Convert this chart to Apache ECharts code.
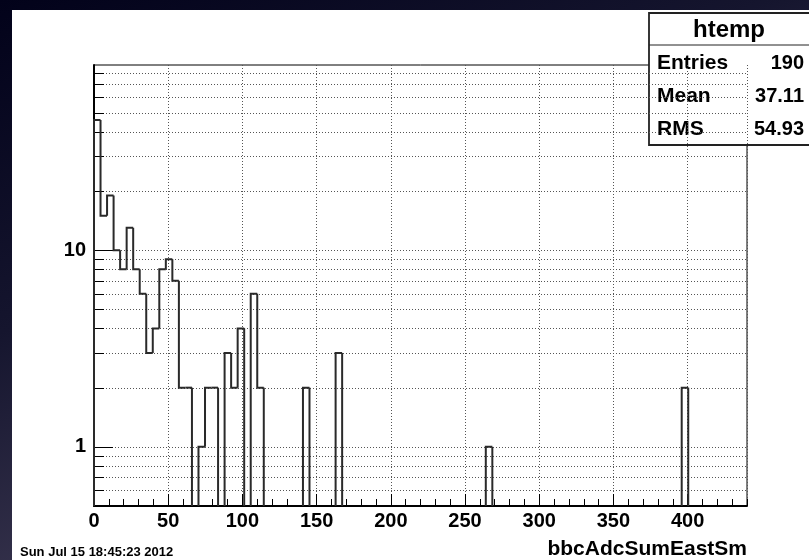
<!DOCTYPE html>
<html>
<head>
<meta charset="utf-8">
<script src="https://cdn.jsdelivr.net/npm/echarts@6/dist/echarts.min.js"></script>
<style>
html,body{margin:0;padding:0;background:#05051a;}
#c{width:809px;height:560px;}
</style>
</head>
<body>
<div id="c"></div>
<script>
// ---- data ----
const BIN_WIDTH = 4.4;          // x units per bin (100 bins over 0..440)
const counts = [
  46,15,19,10, 8,13, 8, 6, 3, 4,
   8, 9, 7, 2, 2, 0, 1, 2, 2, 0,
   3, 2, 4, 0, 6, 2, 0, 0, 0, 0,
   0, 0, 2, 0, 0, 0, 0, 3, 0, 0,
   0, 0, 0, 0, 0, 0, 0, 0, 0, 0,
   0, 0, 0, 0, 0, 0, 0, 0, 0, 0,
   1, 0, 0, 0, 0, 0, 0, 0, 0, 0,
   0, 0, 0, 0, 0, 0, 0, 0, 0, 0,
   0, 0, 0, 0, 0, 0, 0, 0, 0, 0,
   2, 0, 0, 0, 0, 0, 0, 0, 0, 0
];
const yGridValues = [0.6,0.7,0.8,0.9,1,2,3,4,5,6,7,8,9,10,20,30,40,50,60,70,80];
const yMajorValues = [1,10];
const statsTitle = 'htemp';
const statsNames = ['Entries','Mean','RMS'];
const statsValues = ['190','37.11','54.93'];
const xTitle = 'bbcAdcSumEastSm';
const dateText = 'Sun Jul 15 18:45:23 2012';
const X_MIN = 0, X_MAX = 440, Y_MIN = 0.5, Y_MAX = 87.6;

const FONT = "'Liberation Sans', Arial, Helvetica, sans-serif";

const histData = counts.map((c, i) => [i, c, i > 0 ? counts[i - 1] : 0]);
const gridData = yGridValues.map(v => [0, v]);

function renderHist(params, api) {
  const i = api.value(0), v = api.value(1), prev = api.value(2);
  const cs = params.coordSys;
  const bottom = cs.y + cs.height;
  const x0 = api.coord([i * BIN_WIDTH, 1])[0];
  const x1 = api.coord([(i + 1) * BIN_WIDTH, 1])[0];
  const yOf = c => c > 0 ? api.coord([0, c])[1] : bottom;
  const yv = yOf(v), yp = yOf(prev);
  if (v === 0 && prev === 0) return null;
  const pts = [[x0, yp], [x0, yv]];
  if (v > 0) pts.push([x1, yv]);
  return {
    type: 'polyline',
    shape: { points: pts },
    style: { stroke: '#2a2a2a', lineWidth: 2, fill: null, lineJoin: 'miter' }
  };
}

function renderYGrid(params, api) {
  const v = api.value(1);
  const cs = params.coordSys;
  const y = Math.round(api.coord([0, v])[1]) + 0.5;
  const major = yMajorValues.indexOf(v) >= 0;
  return {
    type: 'group',
    children: [
      { type: 'line', shape: { x1: cs.x, y1: y, x2: cs.x + cs.width, y2: y },
        style: { stroke: '#555', lineWidth: 1, lineDash: [1, 2] } },
      { type: 'line', shape: { x1: cs.x, y1: y, x2: cs.x + (major ? 19 : 10), y2: y },
        style: { stroke: '#000', lineWidth: 1 } }
    ]
  };
}

const chart = echarts.init(document.getElementById('c'), null, { renderer: 'canvas' });

const statsChildren = [
  { type: 'rect', shape: { x: 649, y: 13, width: 170, height: 132 },
    style: { fill: '#fff', stroke: '#222', lineWidth: 1.8 } },
  { type: 'line', shape: { x1: 649, y1: 45, x2: 809, y2: 45 },
    style: { stroke: '#222', lineWidth: 1 } },
  { type: 'text', x: 729, y: 30,
    style: { text: statsTitle, fill: '#000', font: 'bold 24px ' + FONT, textAlign: 'center', textVerticalAlign: 'middle' } }
];
statsNames.forEach((n, k) => {
  const yy = 63 + k * 33;
  statsChildren.push({ type: 'text', x: 657, y: yy,
    style: { text: n, fill: '#000', font: 'bold 21px ' + FONT, textAlign: 'left', textVerticalAlign: 'middle' } });
  statsChildren.push({ type: 'text', x: 804, y: yy,
    style: { text: statsValues[k], fill: '#000', font: 'bold 20px ' + FONT, textAlign: 'right', textVerticalAlign: 'middle' } });
});

const option = {
  animation: false,
  backgroundColor: {
    type: 'linear', x: 0, y: 0, x2: 0.3, y2: 1,
    colorStops: [
      { offset: 0, color: '#02021a' },
      { offset: 0.5, color: '#15152e' },
      { offset: 1, color: '#3d3953' }
    ]
  },
  title: {
    text: dateText, left: 20, top: 546, padding: 0,
    textStyle: { fontSize: 13, fontWeight: 'bold', color: '#000', fontFamily: FONT }
  },
  graphic: [
    { type: 'rect', z: -100, shape: { x: 12, y: 10, width: 800, height: 552 }, style: { fill: '#fff' } },
    { type: 'group', z: 100, children: statsChildren }
  ],
  grid: {
    left: 94, top: 65, right: 62, bottom: 52,
    show: true, borderColor: '#000', borderWidth: 1, backgroundColor: 'transparent'
  },
  xAxis: [
    {
      type: 'value', min: X_MIN, max: X_MAX, interval: 50, position: 'bottom',
      name: xTitle, nameLocation: 'end', nameGap: 0,
      nameTextStyle: { fontSize: 21, fontWeight: 'bold', color: '#000', fontFamily: FONT,
        align: 'right', verticalAlign: 'top', padding: [33, 0, 0, 0] },
      axisLine: { show: true, lineStyle: { color: '#000', width: 2 } },
      axisTick: { show: true, inside: true, length: 12, lineStyle: { color: '#000', width: 1 } },
      axisLabel: { show: true, margin: 5, fontSize: 20, fontWeight: 'bold', color: '#000', fontFamily: FONT,
        showMaxLabel: false },
      splitLine: { show: true, lineStyle: { color: '#555', width: 1, type: [1, 2] } }
    },
    {
      type: 'value', min: X_MIN, max: X_MAX, interval: 10, position: 'bottom',
      axisLine: { show: false },
      axisTick: { show: true, inside: true, length: 7, lineStyle: { color: '#000', width: 1 } },
      axisLabel: { show: false },
      splitLine: { show: false }
    }
  ],
  yAxis: {
    type: 'log', logBase: 10, min: Y_MIN, max: Y_MAX,
    axisLine: { show: true, lineStyle: { color: '#000', width: 2 } },
    axisTick: { show: false },
    axisLabel: { show: true, margin: 8, fontSize: 20, fontWeight: 'bold', color: '#000', fontFamily: FONT,
      showMinLabel: false, showMaxLabel: false,
      formatter: v => (yMajorValues.some(m => Math.abs(m - v) < 1e-6) ? String(Math.round(v)) : '') },
    splitLine: { show: false }
  },
  series: [
    {
      type: 'custom', name: 'grid', xAxisIndex: 0, yAxisIndex: 0, z: 1,
      renderItem: renderYGrid, data: gridData, silent: true
    },
    {
      type: 'custom', name: 'htemp', xAxisIndex: 0, yAxisIndex: 0, z: 3,
      renderItem: renderHist, data: histData, encode: { x: 0, y: 1 }
    }
  ]
};
chart.setOption(option);
</script>
</body>
</html>
